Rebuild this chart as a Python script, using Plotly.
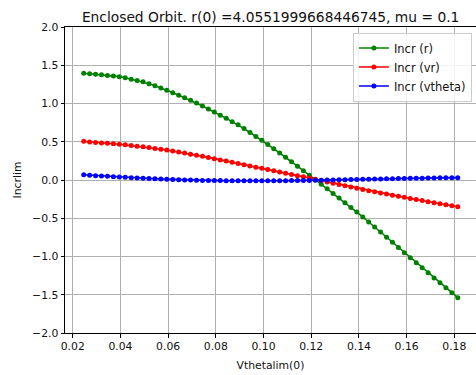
import plotly.graph_objects as go

# Initial tangential velocity values (x axis)
vtheta0 = [
    0.0246, 0.02709, 0.02958, 0.03207, 0.03456, 0.03705, 0.03954, 0.04203,
    0.04452, 0.04701, 0.0495, 0.05199, 0.05448, 0.05697, 0.05946, 0.06195,
    0.06444, 0.06693, 0.06942, 0.07191, 0.0744, 0.07689, 0.07938, 0.08187,
    0.08436, 0.08685, 0.08934, 0.09183, 0.09432, 0.09681, 0.0993, 0.10179,
    0.10428, 0.10677, 0.10926, 0.11175, 0.11424, 0.11673, 0.11922, 0.12171,
    0.1242, 0.12669, 0.12918, 0.13167, 0.13416, 0.13665, 0.13914, 0.14163,
    0.14412, 0.14661, 0.1491, 0.15159, 0.15408, 0.15657, 0.15906, 0.16155,
    0.16404, 0.16653, 0.16902, 0.17151, 0.174, 0.17649, 0.17898, 0.18147,
]

incr_r = [
    1.395, 1.389, 1.383, 1.375, 1.367, 1.359, 1.351, 1.336,
    1.318, 1.301, 1.284, 1.258, 1.231, 1.203, 1.173, 1.141,
    1.108, 1.075, 1.043, 1.005, 0.967, 0.928, 0.890, 0.848,
    0.806, 0.763, 0.721, 0.672, 0.621, 0.570, 0.519, 0.465,
    0.409, 0.353, 0.297, 0.239, 0.180, 0.121, 0.063, 0.004,
    -0.056, -0.116, -0.175, -0.236, -0.297, -0.358, -0.419, -0.483,
    -0.549, -0.615, -0.681, -0.748, -0.815, -0.882, -0.950, -1.016,
    -1.082, -1.148, -1.214, -1.280, -1.344, -1.409, -1.473, -1.538,
]

incr_vr = [
    0.505, 0.497, 0.491, 0.485, 0.480, 0.474, 0.468, 0.460,
    0.451, 0.442, 0.434, 0.424, 0.413, 0.403, 0.392, 0.379,
    0.366, 0.352, 0.338, 0.324, 0.309, 0.294, 0.279, 0.263,
    0.247, 0.231, 0.216, 0.200, 0.184, 0.168, 0.152, 0.136,
    0.120, 0.104, 0.088, 0.072, 0.056, 0.041, 0.025, 0.009,
    -0.008, -0.025, -0.041, -0.058, -0.075, -0.092, -0.109, -0.125,
    -0.140, -0.155, -0.170, -0.184, -0.198, -0.212, -0.227, -0.241,
    -0.255, -0.269, -0.283, -0.296, -0.310, -0.323, -0.337, -0.350,
]

incr_vtheta = [
    0.068, 0.063, 0.057, 0.052, 0.048, 0.043, 0.039, 0.035,
    0.031, 0.027, 0.023, 0.019, 0.016, 0.013, 0.010, 0.007,
    0.004, 0.001, -0.001, -0.003, -0.005, -0.006, -0.008, -0.008,
    -0.009, -0.010, -0.011, -0.011, -0.011, -0.011, -0.011, -0.011,
    -0.010, -0.010, -0.009, -0.008, -0.007, -0.006, -0.005, -0.004,
    -0.002, -0.001, 0.000, 0.002, 0.004, 0.006, 0.007, 0.009,
    0.011, 0.013, 0.014, 0.016, 0.017, 0.019, 0.020, 0.022,
    0.023, 0.024, 0.025, 0.027, 0.028, 0.029, 0.030, 0.031,
]

series = [
    ("Incr (r)", incr_r, "#008000"),
    ("Incr (vr)", incr_vr, "#ff0000"),
    ("Incr (vtheta)", incr_vtheta, "#0000ff"),
]

FONT = "DejaVu Sans"
TEXT = "#111111"

fig = go.Figure()
for name, ys, color in series:
    fig.add_trace(go.Scatter(
        x=vtheta0, y=ys, name=name, mode="lines+markers",
        line=dict(color=color, width=1.6),
        marker=dict(color=color, size=5),
    ))

fig.update_layout(
    width=476, height=375,
    margin=dict(l=65, r=0, t=27, b=42),
    paper_bgcolor="white", plot_bgcolor="white",
    font=dict(family=FONT, size=10.8, color=TEXT),
    title=dict(
        text="Enclosed Orbit. r(0) =4.0551999668446745, mu = 0.1",
        font=dict(family=FONT, size=13.8, color=TEXT),
        x=0.5685, xanchor="center", y=0.955, yanchor="middle",
    ),
    showlegend=True,
    legend=dict(
        x=0.99, xanchor="right", y=0.982, yanchor="top",
        bgcolor="rgba(255,255,255,0.85)", bordercolor="#cccccc", borderwidth=1,
        font=dict(family=FONT, size=11.5, color=TEXT),
        itemwidth=30, tracegroupgap=0,
    ),
)

fig.update_xaxes(
    range=[0.01676, 0.1891],
    tickvals=[0.02, 0.04, 0.06, 0.08, 0.10, 0.12, 0.14, 0.16, 0.18],
    tickformat=".2f",
    showgrid=True, gridcolor="#b0b0b0", gridwidth=0.8,
    showline=True, linecolor="black", linewidth=1, mirror=True,
    ticks="outside", ticklen=3.5, tickcolor="black",
    zeroline=False,
    title=dict(text="Vthetalim(0)", font=dict(family=FONT, size=10.8), standoff=8),
)
fig.update_yaxes(
    range=[-2.0, 2.0],
    tickvals=[-2.0, -1.5, -1.0, -0.5, 0.0, 0.5, 1.0, 1.5, 2.0],
    tickformat=".1f",
    showgrid=True, gridcolor="#b0b0b0", gridwidth=0.8,
    showline=True, linecolor="black", linewidth=1, mirror=False,
    ticks="outside", ticklen=3.5, tickcolor="black",
    zeroline=False,
    title=dict(text="Incrlim", font=dict(family=FONT, size=10.8), standoff=8),
)

fig.write_html("out.html")
